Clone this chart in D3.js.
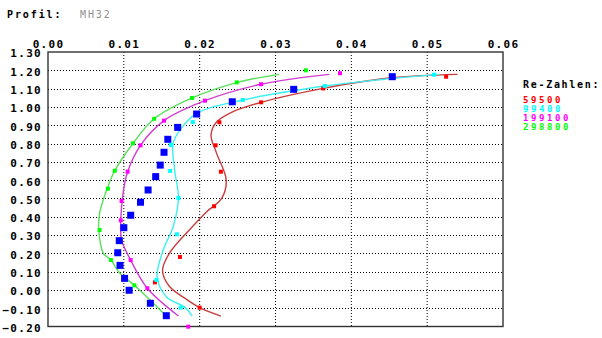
<!DOCTYPE html>
<html>
<head>
<meta charset="utf-8">
<script src="https://cdn.jsdelivr.net/npm/d3@7"></script>
<style>
  body { margin: 0; background: #fff; }
  text { font-family: "DejaVu Sans Mono", monospace; font-weight: bold; }
</style>
</head>
<body>
<script>
// Re-Zahlen (Reynolds numbers) and their colours
var reNumbers = [59500, 99400, 199100, 298800];
var pointColors = ["#ff0000", "#00ffff", "#ff00ff", "#00ff00"];
var lineColors = ["#c83c3c", "#3cf0f0", "#d23cd2", "#5ae05a"];

var xTicks = [0, 0.01, 0.02, 0.03, 0.04, 0.05, 0.06];
var yTicks = [-0.2, -0.1, 0, 0.1, 0.2, 0.3, 0.4, 0.5, 0.6, 0.7, 0.8, 0.9, 1.0, 1.1, 1.2, 1.3];

// measured points [cd, cl]
var pts59500 = [[0.0525,1.165],[0.0363,1.101],[0.0281,1.025],[0.0226,0.916],[0.0221,0.790],[0.0228,0.646],
                [0.0219,0.457],[0.0174,0.180],[0.0141,0.041],[0.0200,-0.097]];
var pts99400 = [[0.0509,1.176],[0.0365,1.114],[0.0257,1.038],[0.0191,0.917],[0.0162,0.792],[0.0161,0.650],
                [0.0172,0.502],[0.0170,0.304],[0.0143,0.054],[0.0175,-0.097]];
var pts199100 = [[0.0385,1.184],[0.0281,1.124],[0.0207,1.034],[0.0153,0.925],[0.0122,0.790],[0.0105,0.646],
                 [0.0097,0.486],[0.0096,0.380],[0.0109,0.163],[0.0131,0.009],[0.0185,-0.201]];
var pts298800 = [[0.0340,1.200],[0.0249,1.134],[0.0190,1.049],[0.0140,0.935],[0.0112,0.801],[0.0088,0.651],
                 [0.0079,0.553],[0.0068,0.327],[0.0083,0.163],[0.0114,0.025]];
// blue squares
var ptsBlue = [[0.0454,1.165],[0.0324,1.096],[0.0243,1.028],[0.0196,0.961],[0.0171,0.888],[0.0158,0.823],
               [0.0153,0.752],[0.0148,0.682],[0.0142,0.619],[0.0132,0.546],[0.0122,0.479],[0.0109,0.408],
               [0.0100,0.340],[0.0094,0.269],[0.0092,0.203],[0.0095,0.134],[0.0101,0.063],[0.0107,-0.002],
               [0.0135,-0.073],[0.0156,-0.141]];

// fitted polars [cd, cl]
var fit59500 = [[0.0540,1.178],[0.0450,1.158],[0.0363,1.101],[0.0281,1.025],[0.0244,0.974],[0.0222,0.916],
                [0.0215,0.846],[0.0222,0.750],[0.0235,0.600],[0.0229,0.500],[0.0210,0.430],[0.0187,0.330],
                [0.0160,0.200],[0.0151,0.105],[0.0160,0.020],[0.0182,-0.050],[0.0200,-0.097],[0.0228,-0.143]];
var fit99400 = [[0.0516,1.178],[0.0440,1.150],[0.0365,1.114],[0.0257,1.038],[0.0196,0.965],[0.0174,0.874],
                [0.0165,0.800],[0.0167,0.655],[0.0172,0.502],[0.0165,0.345],[0.0152,0.218],[0.0144,0.072],
                [0.0156,-0.037],[0.0181,-0.097],[0.0190,-0.143]];
var fit199100 = [[0.0371,1.178],[0.0281,1.124],[0.0207,1.034],[0.0153,0.925],[0.0122,0.790],[0.0105,0.646],
                 [0.0099,0.528],[0.0096,0.380],[0.0097,0.273],[0.0109,0.163],[0.0131,0.009],[0.0172,-0.143]];
var fit298800 = [[0.0305,1.178],[0.0249,1.133],[0.0190,1.049],[0.0140,0.935],[0.0112,0.800],[0.0088,0.651],
                 [0.0078,0.553],[0.0068,0.418],[0.0067,0.327],[0.0073,0.200],[0.0083,0.163],[0.0095,0.090],
                 [0.0114,0.025],[0.0155,-0.139]];

var allPts = [pts59500, pts99400, pts199100, pts298800];
var allFits = [fit59500, fit99400, fit199100, fit298800];

var width = 602, height = 338;
var svg = d3.select("body").append("svg")
    .attr("width", width)
    .attr("height", height);

var x = d3.scaleLinear().domain([0, 0.06]).range([48, 503]);
var y = d3.scaleLinear().domain([-0.2, 1.3]).range([326.5, 52]);

// title
svg.append("text").attr("x", 7).attr("y", 18)
    .style("font-size", "10px").style("letter-spacing", "1.9px")
    .attr("fill", "#000").text("Profil:");
svg.append("text").attr("x", 80).attr("y", 18)
    .style("font-size", "10px").style("letter-spacing", "1.9px").style("font-weight", "normal")
    .attr("fill", "#909090").text("MH32");

// grid
svg.append("g").selectAll("line")
    .data(xTicks.slice(1, -1))
    .enter().append("line")
    .attr("x1", function(d) {return x(d)}).attr("x2", function(d) {return x(d)})
    .attr("y1", y(1.3)).attr("y2", y(-0.2))
    .attr("stroke", "#000").attr("stroke-width", 1).attr("stroke-dasharray", "1,2");
svg.append("g").selectAll("line")
    .data(yTicks.slice(1, -1))
    .enter().append("line")
    .attr("x1", x(0)).attr("x2", x(0.06))
    .attr("y1", function(d) {return Math.round(y(d)) + 0.5}).attr("y2", function(d) {return Math.round(y(d)) + 0.5})
    .attr("stroke", "#000").attr("stroke-width", 1).attr("stroke-dasharray", "1,2");

// axes
var xAxis = d3.axisTop(x).tickValues(xTicks).tickFormat(d3.format(".2f")).tickSize(0).tickPadding(4);
var yAxis = d3.axisLeft(y).tickValues(yTicks).tickFormat(d3.format(".2f")).tickSize(0).tickPadding(6);
var gx = svg.append("g").attr("transform", "translate(0," + y(1.3) + ")").call(xAxis);
var gy = svg.append("g").attr("transform", "translate(" + x(0) + ",0)").call(yAxis);
[gx, gy].forEach(function(g) {
  g.select(".domain").remove();
  g.selectAll("text")
    .style("font-family", "'DejaVu Sans Mono', monospace")
    .style("font-weight", "bold").style("font-size", "11px")
    .style("letter-spacing", "1.3px").attr("fill", "#000");
});
gy.selectAll("text").attr("dy", "0.45em");

// frame
svg.append("rect")
    .attr("x", x(0)).attr("y", y(1.3))
    .attr("width", x(0.06) - x(0)).attr("height", y(-0.2) - y(1.3))
    .attr("fill", "none").attr("stroke", "#333").attr("stroke-width", 1.4);

// fitted curves
var line = d3.line()
    .x(function(d) {return x(d[0])})
    .y(function(d) {return y(d[1])})
    .curve(d3.curveCatmullRom.alpha(0.5));
svg.append("g").selectAll("path")
    .data(allFits)
    .enter().append("path")
    .attr("d", line)
    .attr("fill", "none")
    .attr("stroke", function(d, i) {return lineColors[i]})
    .attr("stroke-width", 1.4);

// measured points
allPts.forEach(function(pts, i) {
  svg.append("g").selectAll("rect")
    .data(pts)
    .enter().append("rect")
    .attr("x", function(d) {return x(d[0]) - 2})
    .attr("y", function(d) {return y(d[1]) - 2})
    .attr("width", 4).attr("height", 4)
    .attr("fill", pointColors[i]);
});

svg.append("g").selectAll("rect")
    .data(ptsBlue)
    .enter().append("rect")
    .attr("x", function(d) {return x(d[0]) - 3.5})
    .attr("y", function(d) {return y(d[1]) - 3.5})
    .attr("width", 7).attr("height", 7)
    .attr("fill", "#0000ff");

// legend
svg.append("text").attr("x", 523).attr("y", 88)
    .style("font-size", "10px").style("letter-spacing", "1.7px")
    .attr("fill", "#000").text("Re-Zahlen:");
svg.append("g").selectAll("text")
    .data(reNumbers)
    .enter().append("text")
    .attr("x", 523)
    .attr("y", function(d, i) {return 103 + i * 9})
    .style("font-size", "9px").style("letter-spacing", "2.6px")
    .attr("fill", function(d, i) {return pointColors[i]})
    .text(function(d) {return d});
</script>
</body>
</html>
